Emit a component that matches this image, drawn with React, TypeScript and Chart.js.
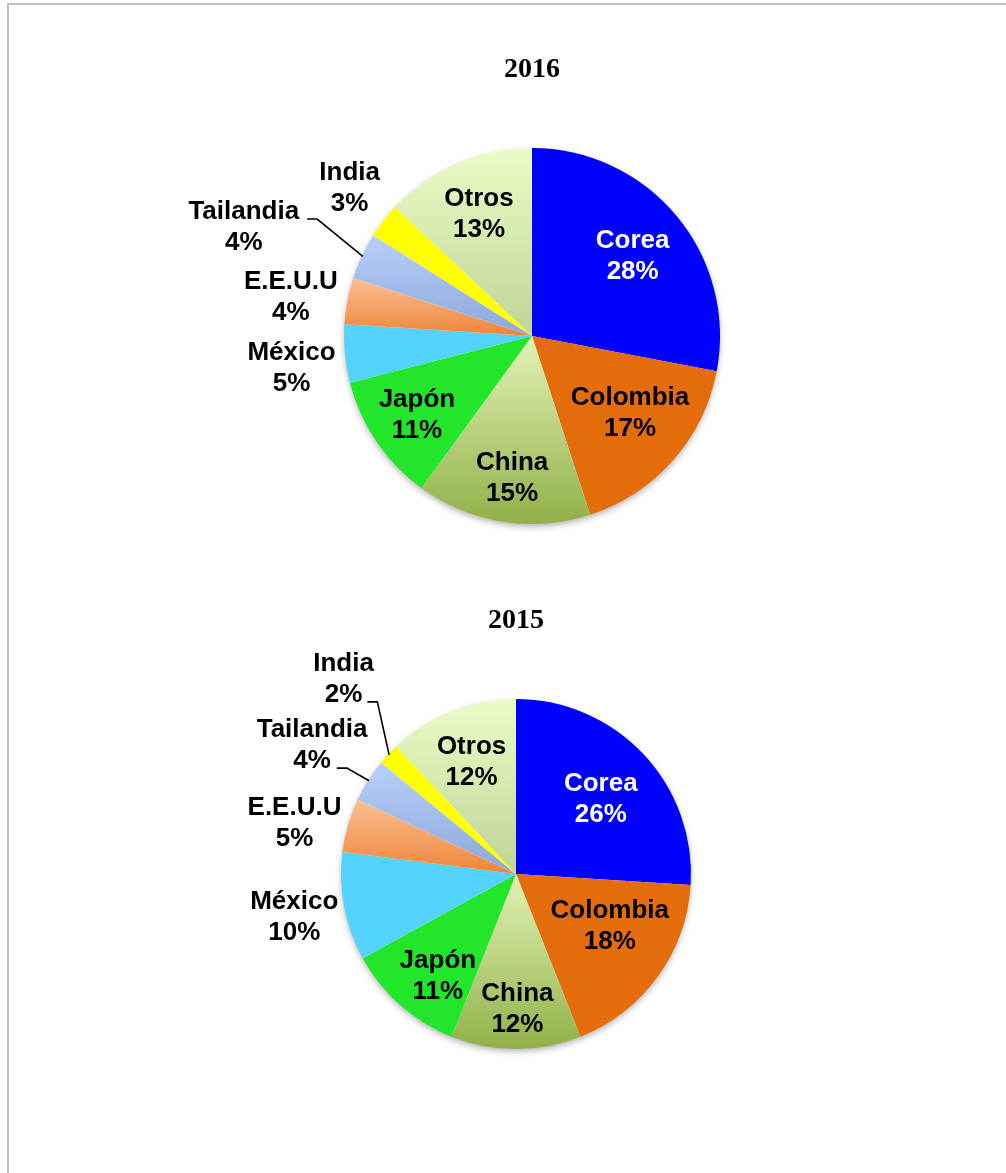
import React, { useEffect, useRef } from 'react';
import { Chart, registerables } from 'chart.js';

Chart.register(...registerables);

// ---- data ----
const categories = ['Corea', 'Colombia', 'China', 'Japón', 'México', 'E.E.U.U', 'Tailandia', 'India', 'Otros'];
const values2016 = [28, 17, 15, 11, 5, 4, 4, 3, 13];
const values2015 = [26, 18, 12, 11, 10, 5, 4, 2, 12];
const title2016 = '2016';
const title2015 = '2015';

// ---- styles ----
// plain colour or [top, bottom] vertical gradient
const sliceColors: (string | [string, string])[] = [
  '#0000ff',
  '#e46c0a',
  ['#e2f3b6', '#90b048'],
  '#22e62a',
  '#53d3fd',
  ['#fbbf94', '#ee853a'],
  ['#b8d0fa', '#8ba7d9'],
  '#ffff00',
  ['#e8fcc6', '#c0d497'],
];
const labelColors = ['#ffffff', '#000000', '#000000', '#000000', '#000000', '#000000', '#000000', '#000000', '#000000'];

// label placement: [radius factor, angle shift in degrees] from the slice mid-angle
const labelLayout2016: [number, number][] = [
  [0.685, 1], [0.66, -3.6], [0.76, -1], [0.74, 0], [1.29, -2], [1.3, -1.4], [1.64, -4.4], [1.25, 1.3], [0.71, 0],
];
const labelLayout2015: [number, number][] = [
  [0.65, 1.4], [0.61, -7.5], [0.77, -0.6], [0.73, -3.7], [1.29, 0], [1.3, -3], [1.38, 0], [1.49, 5.4], [0.69, 0],
];
type Leader = { line: number; gap: number };
const leaders2016: Record<number, Leader> = { 6: { line: 0, gap: 8 } };
const leaders2015: Record<number, Leader> = { 6: { line: 1, gap: 6 }, 7: { line: 1, gap: 5 } };

const LABEL_FONT = 'bold 26px "Liberation Sans", Arial, sans-serif';
const LINE_H = 31;

function sum(a: number[]) {
  return a.reduce((s, v) => s + v, 0);
}

function sliceBackground(values: number[]) {
  return (ctx: any) => {
    const chart = ctx.chart;
    const i = ctx.dataIndex;
    const c = sliceColors[i];
    if (typeof c === 'string') return c;
    const area = chart.chartArea;
    if (!area) return c[1];
    const cy = (area.top + area.bottom) / 2;
    const r = Math.min(area.right - area.left, area.bottom - area.top) / 2;
    const total = sum(values);
    let before = 0;
    for (let k = 0; k < i; k++) before += values[k];
    const a0 = -Math.PI / 2 + (before / total) * Math.PI * 2;
    const a1 = a0 + (values[i] / total) * Math.PI * 2;
    const ys = [cy, cy + r * Math.sin(a0), cy + r * Math.sin(a1)];
    for (const t of [-Math.PI / 2, Math.PI / 2, (3 * Math.PI) / 2]) {
      if (t >= a0 && t <= a1) ys.push(cy + r * Math.sin(t));
    }
    const g = chart.ctx.createLinearGradient(0, Math.min(...ys), 0, Math.max(...ys));
    g.addColorStop(0, c[0]);
    g.addColorStop(1, c[1]);
    return g;
  };
}

const shadowPlugin = {
  id: 'pieShadow',
  beforeDatasetsDraw(chart: any) {
    const meta = chart.getDatasetMeta(0);
    const arc = meta.data[0];
    if (!arc) return;
    const { x, y, outerRadius } = arc.getProps(['x', 'y', 'outerRadius'], true);
    const ctx = chart.ctx;
    ctx.save();
    ctx.shadowColor = 'rgba(0,0,0,0.35)';
    ctx.shadowBlur = 7;
    ctx.shadowOffsetY = 3;
    ctx.beginPath();
    ctx.arc(x, y, outerRadius - 1, 0, Math.PI * 2);
    ctx.fillStyle = '#ffffff';
    ctx.fill();
    ctx.restore();
  },
};

function labelPlugin(layout: [number, number][], leaders: Record<number, Leader>) {
  return {
    id: 'sliceLabels',
    afterDatasetsDraw(chart: any) {
      const meta = chart.getDatasetMeta(0);
      const data = chart.data.datasets[0].data as number[];
      const total = sum(data);
      const ctx = chart.ctx;
      ctx.save();
      ctx.font = LABEL_FONT;
      ctx.textAlign = 'center';
      ctx.textBaseline = 'middle';
      meta.data.forEach((arc: any, i: number) => {
        const { x, y, startAngle, endAngle, outerRadius } = arc.getProps(
          ['x', 'y', 'startAngle', 'endAngle', 'outerRadius'],
          true
        );
        const baseMid = (startAngle + endAngle) / 2;
        const mid = baseMid + (layout[i][1] * Math.PI) / 180;
        const lx = x + Math.cos(mid) * outerRadius * layout[i][0];
        const ly = y + Math.sin(mid) * outerRadius * layout[i][0];
        const lines = [chart.data.labels[i], Math.round((data[i] / total) * 100) + '%'];
        ctx.fillStyle = labelColors[i];
        lines.forEach((t: string, j: number) => ctx.fillText(t, lx, ly + (j - 0.5) * LINE_H + 1));
        const ld = leaders[i];
        if (ld) {
          const lineY = ly + (ld.line - 0.5) * LINE_H + 8;
          const w = ctx.measureText(lines[ld.line]).width;
          const sx = lx + w / 2 + ld.gap;
          const ex = x + Math.cos(baseMid) * (outerRadius - 1);
          const ey = y + Math.sin(baseMid) * (outerRadius - 1);
          ctx.beginPath();
          ctx.moveTo(sx, lineY);
          ctx.lineTo(sx + 10, lineY);
          ctx.lineTo(ex, ey);
          ctx.strokeStyle = '#000000';
          ctx.lineWidth = 1.6;
          ctx.stroke();
        }
      });
      ctx.restore();
    },
  };
}

type PieProps = {
  values: number[];
  title: string;
  layout: [number, number][];
  leaders: Record<number, Leader>;
  left: number;
  top: number;
  width: number;
  height: number;
  padTop: number;
  padBottom: number;
};

const EXTRA_BOTTOM = 14;

function PieChart(p: PieProps) {
  const ref = useRef<HTMLCanvasElement | null>(null);
  useEffect(() => {
    if (!ref.current) return;
    const chart = new Chart(ref.current, {
      type: 'pie',
      data: {
        labels: categories,
        datasets: [
          {
            data: p.values,
            backgroundColor: sliceBackground(p.values) as any,
            borderWidth: 0,
            hoverOffset: 0,
          },
        ],
      },
      options: {
        responsive: false,
        animation: false,
        events: [],
        layout: { padding: { bottom: EXTRA_BOTTOM } },
        plugins: {
          legend: { display: false },
          tooltip: { enabled: false },
          title: {
            display: true,
            text: p.title,
            color: '#000000',
            font: { family: '"Liberation Serif", "Times New Roman", serif', size: 28, weight: 'bold' },
            padding: { top: p.padTop, bottom: p.padBottom },
          },
        },
      },
      plugins: [shadowPlugin, labelPlugin(p.layout, p.leaders)],
    });
    return () => chart.destroy();
  }, []);
  const h = p.height + EXTRA_BOTTOM;
  return (
    <canvas
      ref={ref}
      width={p.width}
      height={h}
      style={{ position: 'absolute', left: p.left, top: p.top, width: p.width, height: h }}
    />
  );
}

export default function App() {
  useEffect(() => {
    document.body.style.margin = '0';
  }, []);
  return (
    <div style={{ position: 'relative', width: 1006, height: 1173, overflow: 'hidden', background: '#ffffff' }}>
      <div
        style={{
          position: 'absolute',
          left: 7,
          top: 3,
          width: 1010,
          height: 1180,
          borderTop: '2px solid #bfbfbf',
          borderLeft: '2px solid #bfbfbf',
        }}
      />
      <PieChart
        values={values2016}
        title={title2016}
        layout={labelLayout2016}
        leaders={leaders2016}
        left={132}
        top={20}
        width={800}
        height={504}
        padTop={33.2}
        padBottom={61.2}
      />
      <PieChart
        values={values2015}
        title={title2015}
        layout={labelLayout2015}
        leaders={leaders2015}
        left={116}
        top={580}
        width={800}
        height={469}
        padTop={24.2}
        padBottom={61.2}
      />
    </div>
  );
}
